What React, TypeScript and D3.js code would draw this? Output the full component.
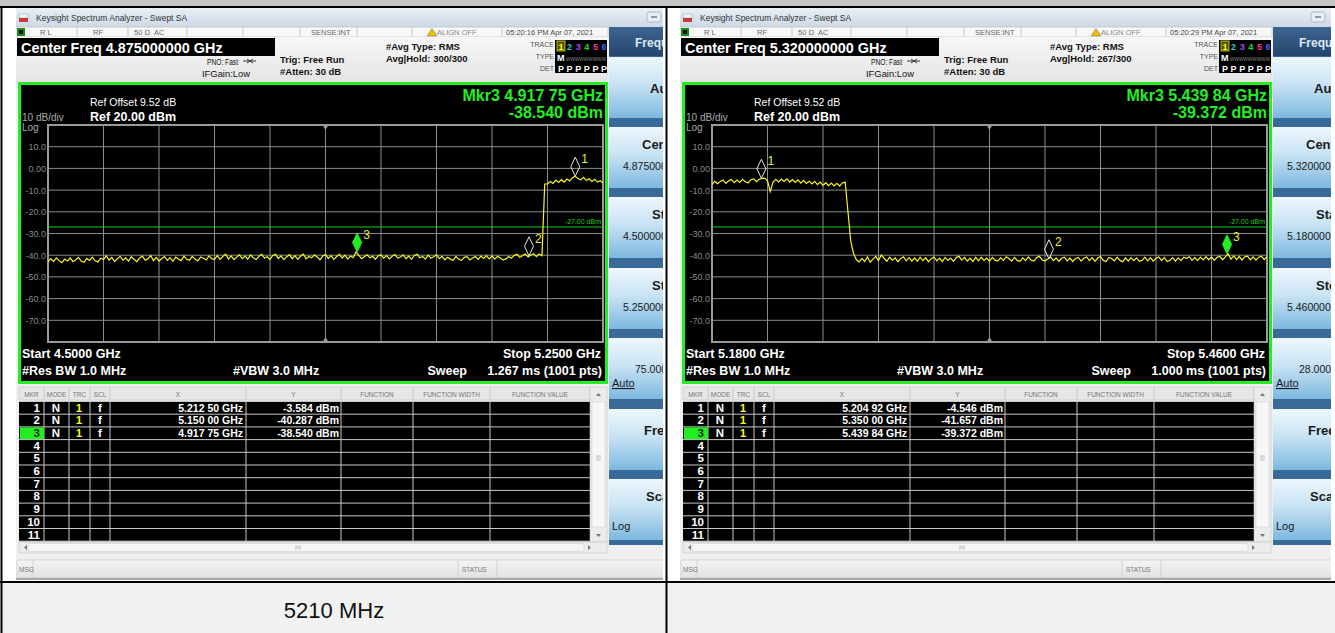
import React from 'react';
import * as d3 from 'd3';

const W = 1335;
const H = 633;
const FONT = "'Liberation Sans', Arial, sans-serif";

// trace 1, left screen (4.5 - 5.25 GHz), dBm, 201 pts
const traceA = [
  -43.1, -41.6, -42.9, -41.2, -42.5, -43.4, -41.8, -42.7, -41.3, -43.0, -42.1, -41.0, -42.8, -43.3, -41.5, -42.4, -40.9, -42.6, -43.1, -41.4, -42.0,
  -40.3, -42.2, -41.0, -42.9, -41.6, -40.5, -42.4, -41.1, -42.8, -40.7, -41.9, -43.0, -41.3, -40.4, -42.3, -41.7, -40.2, -42.5, -41.0, -42.7,
  -41.5, -40.6, -42.4, -41.1, -42.8, -40.9, -41.7, -42.5, -40.4, -41.9, -42.3, -40.6, -41.8, -42.6, -40.8, -41.4, -42.2, -40.3, -41.6, -42.0,
  -40.2, -41.9, -40.6, -39.5, -41.7, -40.3, -42.0, -40.9, -39.8, -41.6, -40.4, -41.8, -39.9, -41.2, -42.0, -40.5, -39.6, -41.3, -40.7, -41.9,
  -40.1, -39.6, -41.5, -40.3, -42.0, -40.8, -39.7, -41.6, -40.2, -41.9, -40.5, -39.5, -41.7, -40.6, -41.2, -39.9, -40.8, -42.1, -40.4, -39.7,
  -41.5, -40.2, -41.9, -40.6, -39.6, -41.3, -40.0, -41.8, -40.4, -41.1, -38.5, -40.1, -41.6, -40.7, -39.8, -41.2, -40.5, -41.9, -40.3, -39.9,
  -41.4, -40.2, -41.7, -40.5, -39.7, -41.3, -40.8, -39.9, -41.6, -40.4, -41.9, -40.1, -39.6, -41.2, -40.6, -41.8, -40.0, -41.4, -40.7, -39.8,
  -41.6, -40.5, -42.1, -40.9, -41.8, -42.3, -40.6, -41.9, -42.4, -41.0, -40.7, -42.2, -41.3, -40.6, -41.9, -40.4, -41.5, -40.2, -41.7, -40.3,
  -41.8, -40.5, -41.3, -42.2, -41.7, -40.6, -41.4, -40.1, -39.6, -41.0, -40.3, -39.5, -40.8, -39.9, -39.3, -40.7, -39.4, -40.2,
  -7.2,
  -7.1, -6.0, -6.9, -5.4, -6.5, -5.2, -6.3, -4.9, -5.8, -4.3, -3.6, -4.7, -5.3, -4.1, -5.6, -4.8, -6.0, -5.0, -6.3, -5.7, -6.8,
];

// trace 1, right screen (5.18 - 5.46 GHz)
const traceB = [
  -7.4, -5.9, -7.1, -6.0, -5.3, -6.9, -5.7, -5.1, -6.6, -5.4, -6.5, -5.0, -6.2, -6.7, -5.2, -4.8, -6.1, -5.0, -4.6, -4.5, -5.7,
  -10.6,
  -6.3, -5.0, -6.2, -4.9, -6.0, -4.8, -6.3, -5.2, -6.5, -5.3, -6.8, -5.5, -6.9, -5.9, -7.2, -6.0, -7.5, -6.3, -7.8,
  -6.6, -8.0, -6.8, -8.1, -6.9, -8.2, -6.6, -6.4,
  -20.0, -33.5, -39.2, -42.0,
  -43.1, -41.5, -42.9, -40.8, -43.2, -41.8, -40.6, -42.5, -39.9, -41.4, -42.8, -40.9, -42.3, -41.2, -43.0, -41.5, -40.7, -42.6, -41.1, -42.7,
  -41.3, -42.8, -40.9, -42.5, -41.2, -43.0, -41.6, -40.8, -42.6, -41.4, -42.9, -41.0, -42.4, -41.3, -42.8, -41.1, -40.5, -42.3, -41.0, -42.7,
  -41.4, -42.9, -41.0, -42.6, -40.9, -42.4, -41.3, -42.8, -41.0, -42.3, -42.7, -41.1, -42.5, -40.7, -41.5, -42.7, -41.0, -42.4, -42.8, -41.2,
  -42.5, -40.8, -42.3, -42.7, -41.1, -40.5, -42.2, -42.6, -41.7, -40.8, -42.5, -41.2, -42.8, -41.4, -40.9, -42.6, -41.3, -42.9, -41.5, -41.0,
  -42.7, -41.4, -40.8, -42.5, -41.1, -42.8, -41.3, -40.6, -42.4, -42.9, -41.0, -41.5, -42.6, -40.9, -42.4, -43.0, -41.2, -42.7, -41.1, -42.5,
  -41.2, -42.8, -42.4, -40.9, -42.6, -41.1, -42.7, -41.4, -40.8, -42.5, -41.0, -42.9, -42.3, -41.1, -42.7, -41.2, -42.5, -40.9, -41.4, -40.7,
  -42.4, -41.0, -42.5, -40.9, -42.2, -40.7, -42.1, -40.8, -42.4, -41.0, -40.5, -42.1, -40.8, -39.4,
  -41.8, -40.3, -42.0, -40.6, -42.2, -40.7, -40.4, -42.1, -40.8, -42.3, -40.9, -40.5, -42.0, -40.7,
];

const spanA = [4.5, 5.25];
const spanB = [5.18, 5.46];

const markersA = [
  { n: 1, freq: 5.2125, dbm: -3.584 },
  { n: 2, freq: 5.15, dbm: -40.287 },
  { n: 3, freq: 4.91775, dbm: -38.54 },
];
const markersB = [
  { n: 1, freq: 5.20492, dbm: -4.546 },
  { n: 2, freq: 5.35, dbm: -41.657 },
  { n: 3, freq: 5.43984, dbm: -39.372 },
];

const refLevel = [-80, 20];
const limitLine = -27;

const centerFreqs = ['4.875000000 GHz', '5.320000000 GHz'];
const startLabels = ['4.5000 GHz', '5.1800 GHz'];
const stopLabels = ['5.2500 GHz', '5.4600 GHz'];
const sweeps = ['1.267 ms (1001 pts)', '1.000 ms (1001 pts)'];
const clocks = ['05:20:16 PM Apr 07, 2021', '05:20:29 PM Apr 07, 2021'];
const avgHolds = ['300/300', '267/300'];
const keyValuesA = ['4.875000000 GHz', '4.500000000 GHz', '5.250000000 GHz', '75.000000 MHz'];
const keyValuesB = ['5.320000000 GHz', '5.180000000 GHz', '5.460000000 GHz', '28.000000 MHz'];
// softkey titles only show their first letters, the panel is cut by the screenshot
const keyTitles = ['Aut', 'Cent', 'Sta', 'Sto', '', 'Freq', 'Scal'];
const keyTitleX = [650, 642, 652, 652, 664, 644, 646];
const tableCols = ['MKR', 'MODE', 'TRC', 'SCL', 'X', 'Y', 'FUNCTION', 'FUNCTION WIDTH', 'FUNCTION VALUE'];
const tableEdges = [19, 44, 69, 90, 110, 246, 341, 413, 490, 590];

const fmtFreq = (f: number) => {
  const s = f.toFixed(5);
  return `${s.slice(0, s.length - 2)} ${s.slice(-2)} GHz`;
};
const fmtDbm = (v: number) => `${v.toFixed(3)} dBm`;

const GREEN = '#22ee22';

function Screen({ ox, clipW, id, trace, span, markers, idx, keyValues }: any) {
  const gx0 = 48, gx1 = 603, gy0 = 125, gy1 = 342;
  const x = d3.scaleLinear().domain(span).range([gx0, gx1]);
  const y = d3.scaleLinear().domain(refLevel).range([gy1, gy0]);
  const step = (span[1] - span[0]) / (trace.length - 1);
  const line = d3.line<number>().x((_, i) => x(span[0] + i * step)).y(d => y(d));
  const xTicks = d3.range(11).map(k => span[0] + (k * (span[1] - span[0])) / 10);
  const yTicks = y.ticks(10);
  const active = markers[2];
  const rowH = 12.7;
  const bodyTop = 401.5;
  const keyTops = [57, 127, 197, 268, 338, 409, 479];

  return (
    <g transform={`translate(${ox},0)`}>
      <defs>
        <clipPath id={id}><rect x={16} y={8} width={clipW} height={572} /></clipPath>
        <clipPath id={id + 'g'}><rect x={gx0} y={gy0} width={gx1 - gx0} height={gy1 - gy0} /></clipPath>
      </defs>
      <g clipPath={`url(#${id})`} fontFamily={FONT}>
        <rect x={16} y={8} width={clipW} height={572} fill="#efefef" />
        {/* title bar */}
        <rect x={16} y={8} width={clipW} height={19} fill="url(#titleGrad)" />
        <rect x={19} y={14} width={9} height={4} fill="#f4f4f4" stroke="#999" strokeWidth={0.5} />
        <rect x={19} y={18} width={9} height={4} fill="#c43a3a" />
        <text x={36} y={21} fontSize={8.5} fill="#333">Keysight Spectrum Analyzer - Swept SA</text>
        <rect x={647} y={12} width={14} height={10} rx={2} fill="#e8eef4" stroke="#9aa7b5" strokeWidth={0.7} />
        <line x1={651} x2={657} y1={17} y2={17} stroke="#556" strokeWidth={1.2} />

        {/* status row */}
        <rect x={16} y={27} width={592} height={10} fill="#f8f8f8" stroke="#b5b5b5" strokeWidth={0.6} />
        <rect x={17} y={28} width={8} height={8} fill="#1a8a1a" />
        <rect x={19} y={30} width={4} height={4} fill="#111" />
        {[77, 128, 187, 243, 300, 357, 412, 502].map(d => (
          <line key={d} x1={d} x2={d} y1={27} y2={37} stroke="#bdbdbd" strokeWidth={0.8} />
        ))}
        <g fontSize={7.5} fill="#666">
          <text x={40} y={35}>R L</text>
          <text x={93} y={35}>RF</text>
          <text x={134} y={35}>50 Ω</text>
          <text x={154} y={35}>AC</text>
          <text x={311} y={35}>SENSE:INT</text>
          <text x={437} y={35} fill="#888">ALIGN OFF</text>
          <text x={506} y={35} fill="#444">{clocks[idx]}</text>
        </g>
        <path d="M432,28.5 L437,36 L427,36 Z" fill="#e8c000" stroke="#555" strokeWidth={0.4} />

        {/* header */}
        <rect x={16} y={37} width={592} height={46} fill="url(#hdrGrad)" />
        <rect x={17} y={38} width={258} height={18} fill="#000" />
        <text x={21} y={53} fontSize={14.4} fontWeight="bold" fill="#fff">Center Freq {centerFreqs[idx]}</text>
        <g fontSize={8.5} fill="#111">
          <text x={207} y={65} textLength={31} lengthAdjust="spacingAndGlyphs">PNO: Fast</text>
          <text x={202} y={77} textLength={48} lengthAdjust="spacingAndGlyphs">IFGain:Low</text>
        </g>
        <path d="M243,61 L256,61 M247,59 L250,61 L247,63 M253,59 L250,61 L253,63" stroke="#222" strokeWidth={0.9} fill="none" />
        <g fontSize={9.5} fontWeight="bold" fill="#111">
          <text x={280} y={63}>Trig: Free Run</text>
          <text x={280} y={75}>#Atten: 30 dB</text>
          <text x={386} y={50}>#Avg Type: RMS</text>
          <text x={386} y={62}>Avg|Hold: {avgHolds[idx]}</text>
        </g>
        <g fontSize={7} fill="#555" textAnchor="end">
          <text x={554} y={47}>TRACE</text>
          <text x={554} y={59}>TYPE</text>
          <text x={554} y={71}>DET</text>
        </g>
        <rect x={555} y={40} width={52} height={33} fill="#000" />
        <rect x={557} y={41} width={8} height={10} fill="#555500" stroke="#dddd00" strokeWidth={0.8} />
        {['1', '2', '3', '4', '5', '6'].map((t, k) => (
          <text key={t} x={561 + k * 8.6} y={49.5} fontSize={9} fontWeight="bold" textAnchor="middle"
            fill={['#ffff33', '#22d0d0', '#b040ff', '#22dd22', '#ff3399', '#4060ff'][k]}>{t}</text>
        ))}
        <text x={557} y={61} fontSize={9} fontWeight="bold" fill="#fff">M</text>
        <text x={566} y={60.5} fontSize={6} fill="#888" textLength={40} lengthAdjust="spacingAndGlyphs">WWWWWWWWW</text>
        {d3.range(6).map(k => (
          <text key={k} x={561 + k * 8.6} y={71.5} fontSize={9} fontWeight="bold" textAnchor="middle" fill="#fff">P</text>
        ))}

        {/* plot frame */}
        <rect x={19.5} y={83.5} width={587} height={299} fill="#000" stroke={GREEN} strokeWidth={3} />
        <text x={90} y={106} fontSize={10.5} fill="#fff">Ref Offset 9.52 dB</text>
        <text x={90} y={121} fontSize={12.5} fontWeight="bold" fill="#fff">Ref 20.00 dBm</text>
        <text x={22} y={121} fontSize={10} fill="#aaa">10 dB/div</text>
        <text x={22} y={131} fontSize={10} fill="#aaa">Log</text>
        <g fontSize={16} fontWeight="bold" fill={GREEN} textAnchor="end">
          <text x={603} y={101}>Mkr{active.n} {fmtFreq(active.freq)}</text>
          <text x={603} y={118}>{fmtDbm(active.dbm)}</text>
        </g>

        {/* graticule */}
        {yTicks.map(v => (
          <line key={'h' + v} x1={gx0} x2={gx1} y1={y(v)} y2={y(v)} stroke="#8c8c8c" strokeWidth={1} />
        ))}
        {xTicks.map((f, k) => (
          <line key={'v' + k} x1={x(f)} x2={x(f)} y1={gy0} y2={gy1} stroke="#8c8c8c" strokeWidth={1} />
        ))}
        <rect x={gx0} y={gy0} width={gx1 - gx0} height={gy1 - gy0} fill="none" stroke="#9a9a9a" strokeWidth={2} />
        <path d={`M${x(xTicks[5]) - 3},${gy0} L${x(xTicks[5]) + 3},${gy0} L${x(xTicks[5])},${gy0 + 5} Z`} fill="#999" />
        <path d={`M${x(xTicks[5]) - 3},${gy1} L${x(xTicks[5]) + 3},${gy1} L${x(xTicks[5])},${gy1 - 5} Z`} fill="#999" />
        {yTicks.filter(v => v > refLevel[0] && v < refLevel[1]).map(v => (
          <text key={'l' + v} x={46} y={y(v) + 3.5} fontSize={9} fill="#8a8a8a" textAnchor="end">
            {v === 0 ? '0.00' : v.toFixed(1)}
          </text>
        ))}
        <line x1={gx0} x2={gx1} y1={y(limitLine)} y2={y(limitLine)} stroke="#16d016" strokeWidth={1} />
        <text x={601} y={y(limitLine) - 3} fontSize={7} fill="#16d016" textAnchor="end">-27.00 dBm</text>

        <path d={line(trace) || ''} fill="none" stroke="#f6f61c" strokeWidth={1.2} clipPath={`url(#${id}g)`} />

        {markers.map((m: any) => {
          const px = x(m.freq), py = y(m.dbm);
          const on = m.n === active.n;
          return (
            <g key={m.n}>
              <path d={`M${px},${py} L${px + 4.5},${py - 9.5} L${px},${py - 19} L${px - 4.5},${py - 9.5} Z`}
                fill={on ? GREEN : 'none'} stroke={on ? GREEN : '#e6e6e6'} strokeWidth={1} />
              <text x={px + 6} y={py - 13} fontSize={12} fill="#f0f020">{m.n}</text>
            </g>
          );
        })}

        <g fontSize={12.5} fontWeight="bold" fill="#fff">
          <text x={22} y={358}>Start {startLabels[idx]}</text>
          <text x={22} y={375}>#Res BW 1.0 MHz</text>
          <text x={233} y={375}>#VBW 3.0 MHz</text>
          <text x={601} y={358} textAnchor="end">Stop {stopLabels[idx]}</text>
          <text x={467} y={375} textAnchor="end">Sweep</text>
          <text x={602} y={375} textAnchor="end">{sweeps[idx]}</text>
        </g>

        {/* marker table */}
        <rect x={19} y={387} width={571} height={13} fill="#e6e6e6" stroke="#c4c4c4" strokeWidth={0.6} />
        {tableEdges.slice(1, -1).map(e => (
          <line key={'th' + e} x1={e} x2={e} y1={388} y2={400} stroke="#c4c4c4" strokeWidth={0.8} />
        ))}
        {tableCols.map((c, k) => (
          <text key={c} x={(tableEdges[k] + tableEdges[k + 1]) / 2} y={397} fontSize={6.5} fill="#777" textAnchor="middle">{c}</text>
        ))}
        <rect x={19} y={bodyTop} width={571} height={rowH * 11} fill="#000" />
        {d3.range(12).map(k => (
          <line key={'r' + k} x1={19} x2={590} y1={bodyTop + k * rowH} y2={bodyTop + k * rowH} stroke="#c8c8c8" strokeWidth={1} />
        ))}
        {tableEdges.slice(1, -1).map(e => (
          <line key={'tb' + e} x1={e} x2={e} y1={bodyTop} y2={bodyTop + rowH * 11} stroke="#c8c8c8" strokeWidth={1} />
        ))}
        <rect x={20} y={bodyTop + 2 * rowH + 0.5} width={24} height={rowH - 1} fill={GREEN} />
        <g fontSize={11.5} fontWeight="bold">
          {d3.range(11).map(k => (
            <text key={'n' + k} x={40} y={bodyTop + k * rowH + 10} textAnchor="end" fill={k === 2 ? '#063006' : '#fff'}>{k + 1}</text>
          ))}
          {markers.map((m: any, k: number) => (
            <g key={'m' + k}>
              <text x={56} y={bodyTop + k * rowH + 10} textAnchor="middle" fill="#fff">N</text>
              <text x={79} y={bodyTop + k * rowH + 10} textAnchor="middle" fill="#f4f420">1</text>
              <text x={100} y={bodyTop + k * rowH + 10} textAnchor="middle" fill="#fff">f</text>
              <text x={243} y={bodyTop + k * rowH + 10} textAnchor="end" fill="#fff" fontSize={10.5}>{fmtFreq(m.freq)}</text>
              <text x={339} y={bodyTop + k * rowH + 10} textAnchor="end" fill="#fff" fontSize={10.5}>{fmtDbm(m.dbm)}</text>
            </g>
          ))}
        </g>
        {/* scrollbars */}
        <rect x={590} y={387} width={17} height={155} fill="#ececec" stroke="#c4c4c4" strokeWidth={0.6} />
        <rect x={592} y={402} width={13} height={125} fill="#f7f7f7" stroke="#d0d0d0" strokeWidth={0.6} />
        <path d="M596,396 L601,396 L598.5,393 Z" fill="#777" />
        <path d="M596,534 L601,534 L598.5,537 Z" fill="#777" />
        <path d="M596,456 L601,456 M596,458 L601,458 M596,460 L601,460" stroke="#999" strokeWidth={0.6} />
        <rect x={19} y={542} width={588} height={11} fill="#ececec" stroke="#c4c4c4" strokeWidth={0.6} />
        <rect x={28} y={543.5} width={556} height={8} rx={2} fill="#f6f6f6" stroke="#d0d0d0" strokeWidth={0.6} />
        <path d="M24,547.5 L27,545 L27,550 Z" fill="#777" />
        <path d="M591,547.5 L588,545 L588,550 Z" fill="#777" />
        <path d="M296,545.5 L296,549.5 M298,545.5 L298,549.5 M300,545.5 L300,549.5" stroke="#999" strokeWidth={0.6} />
        {/* status bar */}
        <rect x={17} y={560} width={clipW} height={18} fill="url(#statGrad)" stroke="#c0c0c0" strokeWidth={0.6} />
        <line x1={33} x2={33} y1={560} y2={578} stroke="#c0c0c0" strokeWidth={0.6} />
        <line x1={458} x2={458} y1={560} y2={578} stroke="#c0c0c0" strokeWidth={0.6} />
        <line x1={497} x2={497} y1={560} y2={578} stroke="#c0c0c0" strokeWidth={0.6} />
        <text x={19} y={572} fontSize={6.5} fill="#777">MSG</text>
        <text x={462} y={572} fontSize={6.5} fill="#777">STATUS</text>
        <line x1={16} x2={16 + clipW} y1={579} y2={579} stroke="#666" strokeWidth={1} />

        {/* softkeys */}
        <rect x={609} y={27} width={70} height={518} fill="#3a6a98" />
        <rect x={609} y={27} width={70} height={29} fill="url(#navyGrad)" />
        <text x={635} y={47} fontSize={12} fontWeight="bold" fill="#dfe8f2">Frequ</text>
        {keyTops.map((t, k) => (
          <g key={'k' + k}>
            <rect x={609} y={t} width={70} height={61} fill="url(#keyGrad)" />
            <text x={keyTitleX[k]} y={k === 0 ? t + 36 : k === 5 ? t + 26 : t + 22} fontSize={13} fontWeight="bold" fill="#1a1a1a">{keyTitles[k]}</text>
          </g>
        ))}
        <g fontSize={10.5} fill="#1a1a1a">
          <text x={623} y={keyTops[1] + 43}>{keyValues[0].slice(0, 9)}</text>
          <text x={623} y={keyTops[2] + 43}>{keyValues[1].slice(0, 9)}</text>
          <text x={623} y={keyTops[3] + 43}>{keyValues[2].slice(0, 9)}</text>
          <text x={635} y={keyTops[4] + 35}>{keyValues[3].slice(0, 7)}</text>
          <text x={612} y={keyTops[4] + 49} fontSize={11} textDecoration="underline">Auto</text>
          <text x={612} y={keyTops[6] + 51} fontSize={11}>Log</text>
        </g>
      </g>
    </g>
  );
}

export default function App() {
  return (
    <svg width={W} height={H} viewBox={`0 0 ${W} ${H}`} style={{ position: 'absolute', left: 0, top: 0, background: '#fff' }}>
      <defs>
        <linearGradient id="titleGrad" x1="0" y1="0" x2="0" y2="1">
          <stop offset="0" stopColor="#e8eff6" />
          <stop offset="1" stopColor="#cdd9e6" />
        </linearGradient>
        <linearGradient id="hdrGrad" x1="0" y1="0" x2="0" y2="1">
          <stop offset="0" stopColor="#f7f7f7" />
          <stop offset="1" stopColor="#e4e4e4" />
        </linearGradient>
        <linearGradient id="statGrad" x1="0" y1="0" x2="0" y2="1">
          <stop offset="0" stopColor="#f4f4f4" />
          <stop offset="1" stopColor="#e2e2e2" />
        </linearGradient>
        <linearGradient id="navyGrad" x1="0" y1="0" x2="0" y2="1">
          <stop offset="0" stopColor="#3d6590" />
          <stop offset="1" stopColor="#24466e" />
        </linearGradient>
        <linearGradient id="keyGrad" x1="0" y1="0" x2="0" y2="1">
          <stop offset="0" stopColor="#eef7fd" />
          <stop offset="0.45" stopColor="#c8e3f4" />
          <stop offset="1" stopColor="#7db8df" />
        </linearGradient>
      </defs>
      <rect x={0} y={0} width={W} height={7} fill="#c6c6c6" />
      <rect x={0} y={583} width={W} height={50} fill="#f1f1f1" />

      <Screen ox={0} clipW={647} id="scrA" trace={traceA} span={spanA} markers={markersA} idx={0} keyValues={keyValuesA} />
      <Screen ox={664} clipW={651} id="scrB" trace={traceB} span={spanB} markers={markersB} idx={1} keyValues={keyValuesB} />

      {/* table lines */}
      <line x1={0} x2={W} y1={7} y2={7} stroke="#000" strokeWidth={2} />
      <line x1={0} x2={W} y1={582} y2={582} stroke="#000" strokeWidth={2} />
      <line x1={1.5} x2={1.5} y1={6} y2={H} stroke="#000" strokeWidth={2} />
      <line x1={666.5} x2={666.5} y1={6} y2={H} stroke="#000" strokeWidth={2} />
      <text x={334} y={618} fontSize={22} fontFamily={FONT} fill="#111" textAnchor="middle">5210 MHz</text>
    </svg>
  );
}
